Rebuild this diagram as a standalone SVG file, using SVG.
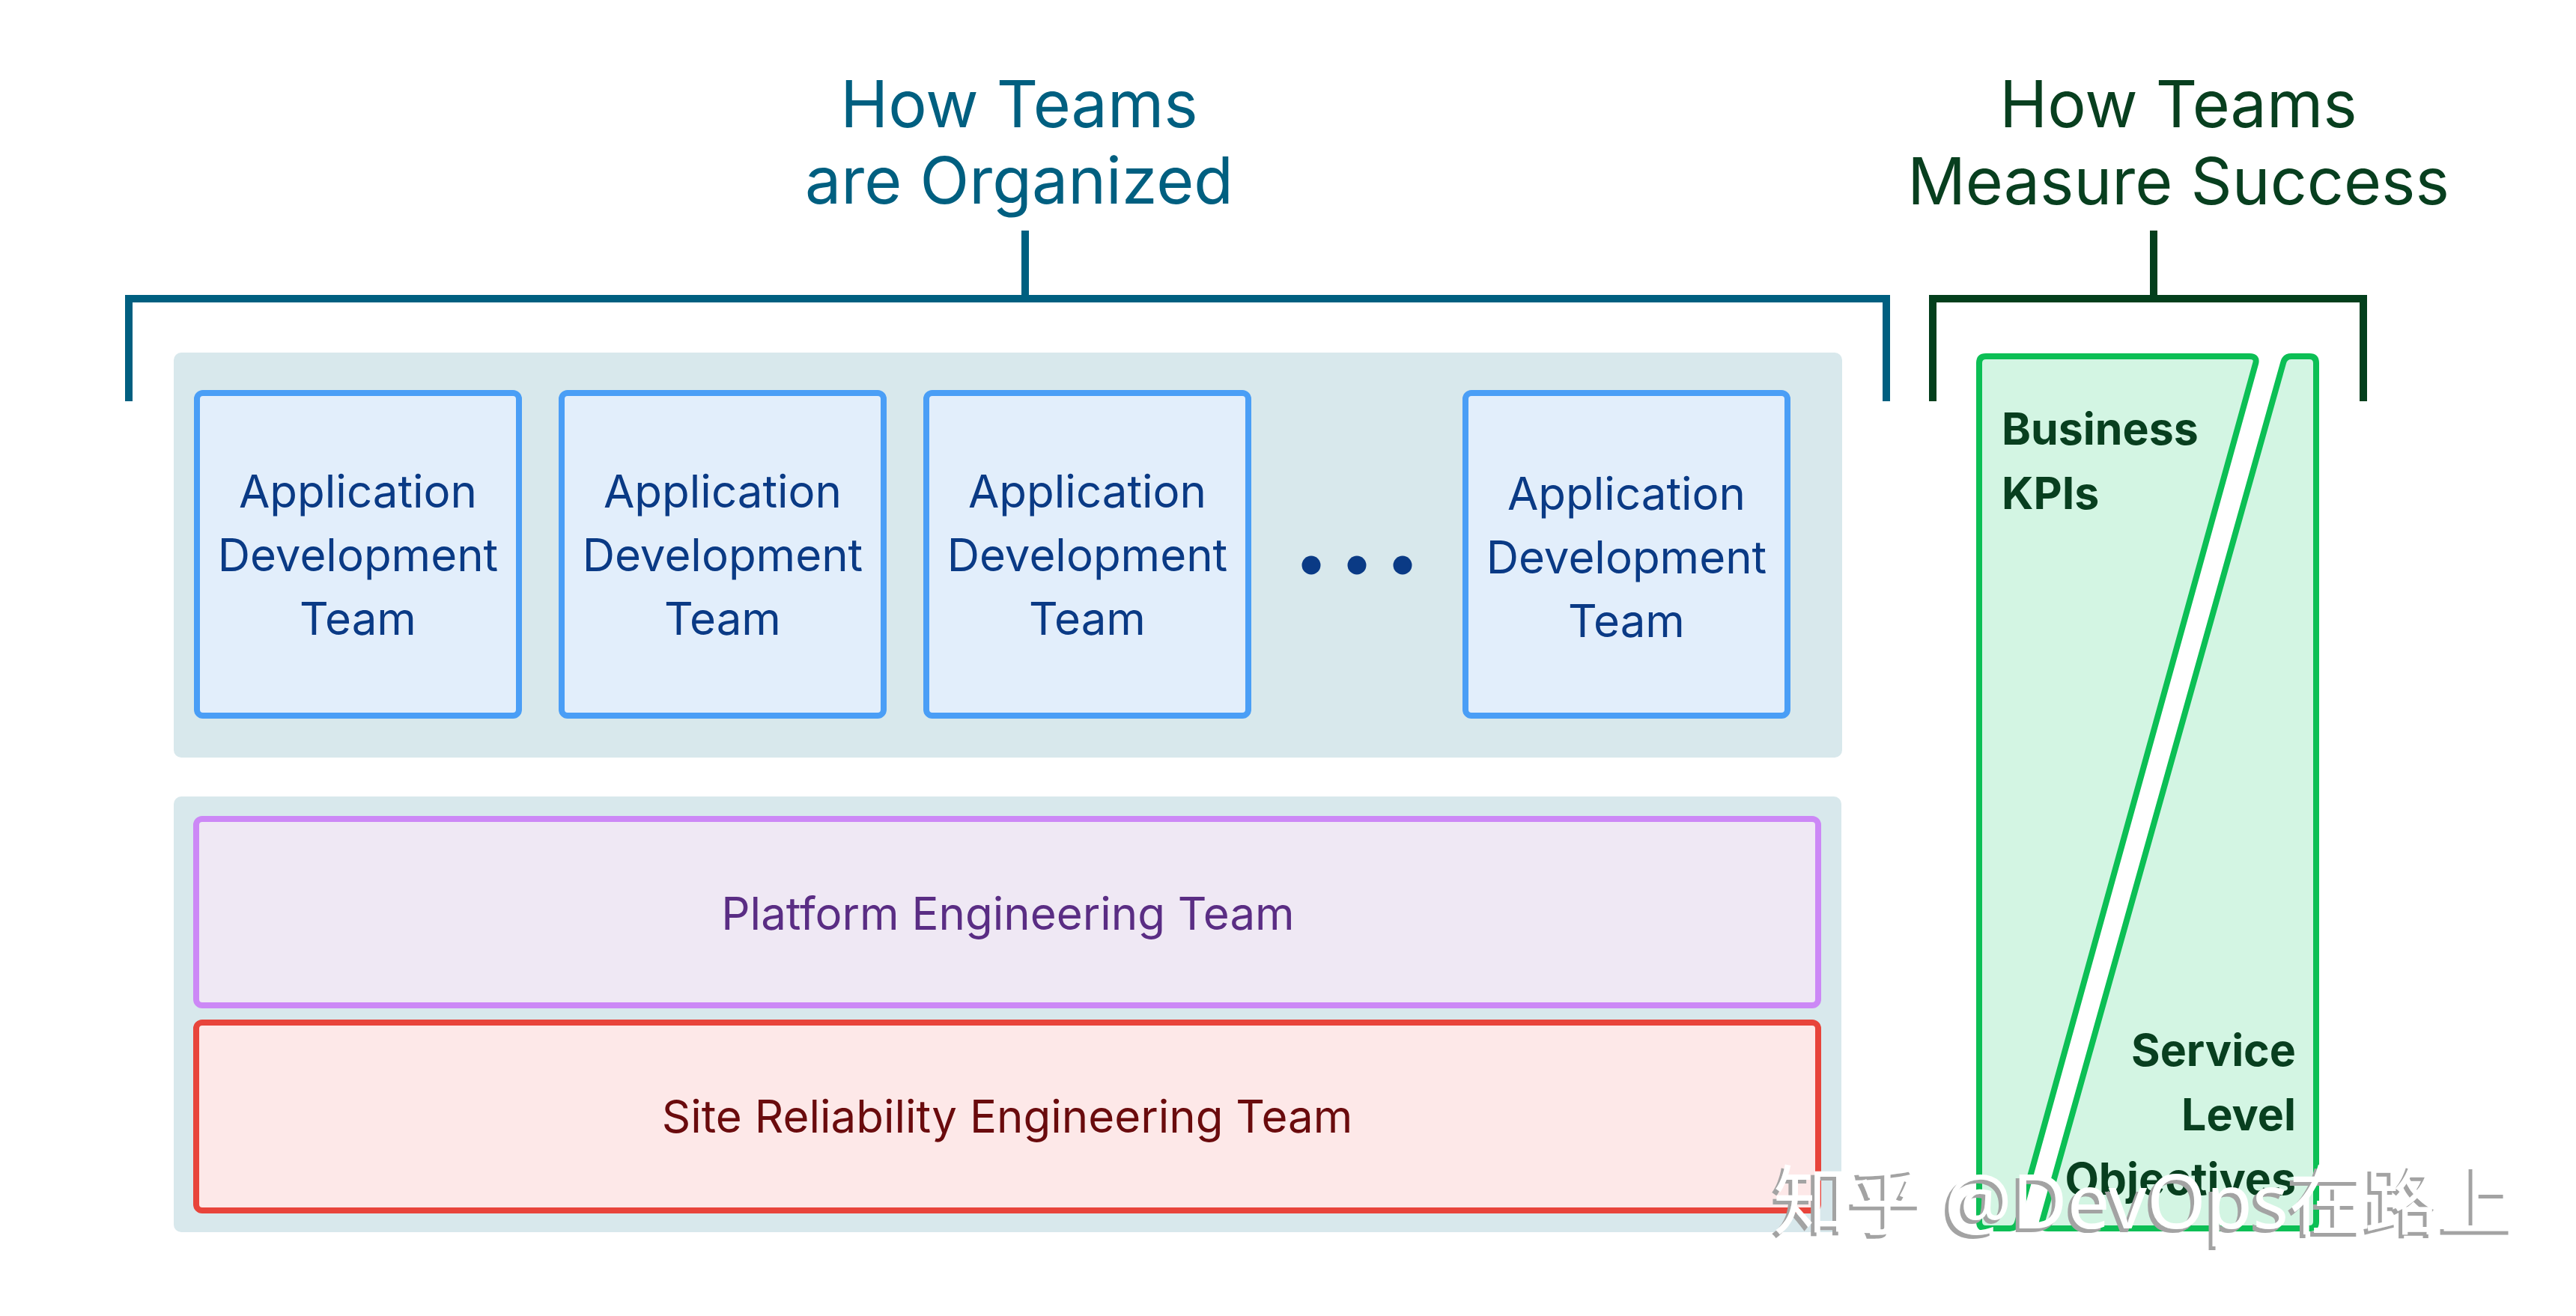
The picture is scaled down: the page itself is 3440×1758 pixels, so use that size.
<svg xmlns="http://www.w3.org/2000/svg" width="3440" height="1758" viewBox="0 0 3440 1758">
<defs>
<filter id="wmshadow" x="-5%" y="-20%" width="110%" height="150%">
<feOffset in="SourceAlpha" dx="-5" dy="5" result="off"/>
<feFlood flood-color="#a3a3a3"/>
<feComposite in2="off" operator="in" result="sh"/>
<feMerge><feMergeNode in="sh"/><feMergeNode in="SourceGraphic"/></feMerge>
</filter>
</defs>
<style>
.t{font-family:Inter,"Liberation Sans","DejaVu Sans",sans-serif}
.title-b{font-size:86px;fill:#005f80}
.title-g{font-size:86px;fill:#083f1f}
.panel{fill:#d8e8ec}
.app{fill:#e2eefb;stroke:#4a9ef6;stroke-width:8}
.apptxt{font-size:60px;fill:#0a3a85;text-anchor:middle}
.plat{fill:#efe8f4;stroke:#cc88f6;stroke-width:8}
.sre{fill:#fde8e8;stroke:#e8443b;stroke-width:8}
.green{fill:#d3f5e3;stroke:#0cbf55;stroke-width:8;stroke-linejoin:round}
.gtxt{font-size:59px;font-weight:700;fill:#083f1f}
.wm{font-family:"Noto Sans","Noto Sans CJK SC",sans-serif;font-size:101px}
</style>
<rect width="3440" height="1758" fill="#ffffff"/>
<g id="title-organized">
<text class="t title-b" x="1361" y="170" text-anchor="middle">How Teams</text>
<text class="t title-b" x="1361" y="272" text-anchor="middle">are Organized</text>
</g>
<g id="title-measure">
<text class="t title-g" x="2909" y="170" text-anchor="middle">How Teams</text>
<text class="t title-g" x="2909" y="273" text-anchor="middle">Measure Success</text>
</g>
<g id="connectors" fill="none" stroke-width="10">
<path d="M172,536 V399 H2519 V536 M1369,308 V399" stroke="#005f80"/>
<path d="M2581,536 V399 H3156 V536 M2876,308 V399" stroke="#033f1c"/>
</g>
<g id="app-panel">
<rect class="panel" x="232" y="471" width="2228" height="541" rx="10"/>
</g>
<g id="app-team-1">
<rect class="app" x="263" y="525" width="430" height="431" rx="8"/>
<text class="t apptxt" x="478" y="678">Application</text>
<text class="t apptxt" x="478" y="763">Development</text>
<text class="t apptxt" x="478" y="848">Team</text>
</g>
<g id="app-team-2">
<rect class="app" x="750" y="525" width="430" height="431" rx="8"/>
<text class="t apptxt" x="965" y="678">Application</text>
<text class="t apptxt" x="965" y="763">Development</text>
<text class="t apptxt" x="965" y="848">Team</text>
</g>
<g id="app-team-3">
<rect class="app" x="1237" y="525" width="430" height="431" rx="8"/>
<text class="t apptxt" x="1452" y="678">Application</text>
<text class="t apptxt" x="1452" y="763">Development</text>
<text class="t apptxt" x="1452" y="848">Team</text>
</g>
<g id="ellipsis" fill="#0a3a85">
<circle cx="1751" cy="755" r="12.5"/>
<circle cx="1812" cy="755" r="12.5"/>
<circle cx="1873" cy="755" r="12.5"/>
</g>
<g id="app-team-4">
<rect class="app" x="1957" y="525" width="430" height="431" rx="8"/>
<text class="t apptxt" x="2172" y="681">Application</text>
<text class="t apptxt" x="2172" y="766">Development</text>
<text class="t apptxt" x="2172" y="851">Team</text>
</g>
<g id="platform-panel">
<rect class="panel" x="232" y="1064" width="2227" height="582" rx="10"/>
</g>
<g id="platform-team">
<rect class="plat" x="262" y="1094" width="2166" height="249" rx="8"/>
<text class="t" x="1346" y="1242" font-size="60" fill="#5a2d84" text-anchor="middle">Platform Engineering Team</text>
</g>
<g id="sre-team">
<rect class="sre" x="262" y="1366" width="2166" height="251" rx="8"/>
<text class="t" x="1345" y="1513" font-size="60" fill="#6a0b0d" text-anchor="middle">Site Reliability Engineering Team</text>
</g>
<g id="business-kpis">
<path class="green" d="M2643,485 Q2643,476 2652,476 L3004,476 Q3015,476 3012,486 L2694,1633 Q2692,1641 2684,1641 L2652,1641 Q2643,1641 2643,1632 Z"/>
<text class="t gtxt" x="2673" y="594">Business</text>
<text class="t gtxt" x="2673" y="680">KPIs</text>
</g>
<g id="service-level-objectives">
<path class="green" d="M3049,485 Q3051,476 3060,476 L3084,476 Q3093,476 3093,485 L3093,1632 Q3093,1641 3084,1641 L2735,1641 Q2725,1641 2727,1632 Z"/>
<text class="t gtxt" x="3066" y="1424" text-anchor="end">Service</text>
<text class="t gtxt" x="3066" y="1510" text-anchor="end">Level</text>
<text class="t gtxt" x="3066" y="1596" text-anchor="end">Objectives</text>
</g>
<g id="watermark">
<text class="wm" x="2368" y="1641" fill="#ffffff" filter="url(#wmshadow)">知乎 @DevOps在路上</text>
</g>
</svg>
